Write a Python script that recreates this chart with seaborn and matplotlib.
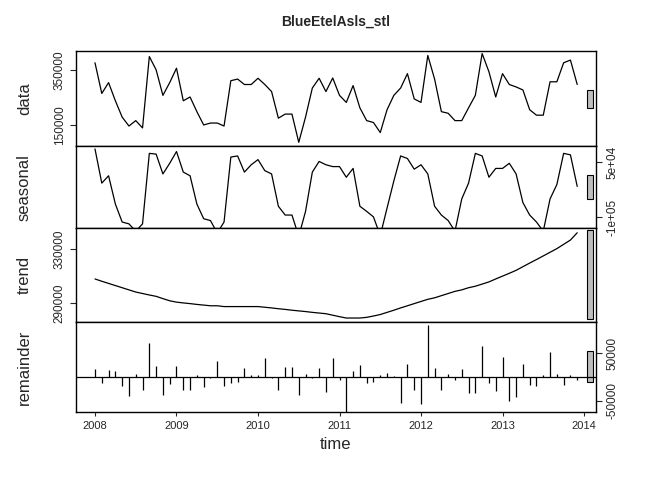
import numpy as np
import pandas as pd
import matplotlib
matplotlib.use("Agg")
import matplotlib.pyplot as plt
import seaborn as sns

# monthly values, Jan 2008 .. Dec 2013 (thousands)
data_k = [378, 265, 305, 238, 178, 145, 165, 138, 401, 352, 258, 305,
          358, 238, 252, 198, 149, 156, 156, 145, 312, 318, 298, 298,
          321, 298, 272, 174, 189, 189, 85, 178, 285, 321, 272, 322,
          258, 232, 294, 212, 165, 158, 121, 205, 258, 285, 338, 245,
          232, 405, 318, 198, 192, 165, 165, 212, 258, 412, 345, 252,
          338, 298, 289, 278, 205, 185, 185, 308, 308, 378, 388, 298]
seasonal_k = [86, -7, 13, -64, -113, -118, -138, -118, 74, 72, 18, 47,
              79, 23, 13, -64, -104, -109, -143, -113, 64, 67, 23, 43,
              57, 27, 18, -70, -94, -94, -152, -84, 23, 52, 43, 38,
              38, 9, 33, -70, -84, -99, -150, -75, -1, 67, 60, 31,
              43, 18, -70, -94, -109, -138, -50, -7, 74, 67, 9, 33,
              33, 47, 18, -60, -94, -113, -138, -50, -11, 74, 70, -16]
trend_k = [308, 306.3, 304.7, 303.1, 301.5, 299.9, 298.3, 297.2, 296.1, 295.1, 293.4, 291.8,
           290.8, 290.2, 289.7, 289.1, 288.6, 288.1, 288.1, 287.5, 287.5, 287.5, 287.5, 287.5,
           287.5, 287, 286.5, 285.9, 285.4, 284.8, 284.3, 283.8, 283.2, 282.7, 282.2, 281.1,
           280, 279, 279, 279, 279.5, 280.5, 281.6, 283.2, 284.8, 286.5, 288.1, 289.7,
           291.3, 292.9, 294, 295.6, 297.2, 298.8, 299.9, 301.5, 302.6, 304.2, 305.8, 308,
           310.1, 312.2, 314.4, 317.1, 319.8, 322.4, 325.1, 327.8, 330.5, 333.7, 336.9, 342.3]
remainder_k = [16, -12, 14, 12, -19, -41, 7, -27, 72, 23, -39, -14,
               23, -28, -28, 5, -21, -2, 34, -19, -13, -10, 19, 5,
               5, 41, -3, -28, 21, 21, -39, 7, -2, 19, -31, 41,
               -7, -75, 12, 25, -12, -10, 5, 9, 3, -54, 28, -27,
               -57, 110, 19, -27, 7, -7, 16, -34, -33, 66, -12, -30,
               43, -51, -43, 28, -16, -18, 5, 52, 7, -16, 5, -7]
years = [2008, 2009, 2010, 2011, 2012, 2013, 2014]

time = 2008 + np.arange(len(data_k)) / 12
df = pd.DataFrame({"time": time,
                   "data": np.array(data_k) * 1000,
                   "seasonal": np.array(seasonal_k) * 1000,
                   "trend": np.array(trend_k) * 1000,
                   "remainder": np.array(remainder_k) * 1000})

sns.set_style("white")
plt.rcParams['font.family'] = ['Liberation Sans', 'DejaVu Sans']

fig = plt.figure(figsize=(6.72, 4.8), dpi=100)
H, W = 480, 672
left_px, right_px = 76, 596
panels = [("data", 50.7, 146.4, (70000, 422500), [150000, 350000], ["150000", "350000"], "left"),
          ("seasonal", 146.4, 227.9, (-129000, 93000), [-100000, 50000], ["-1e+05", "5e+04"], "right"),
          ("trend", 227.9, 321.8, (276200, 345900), [290000, 330000], ["290000", "330000"], "left"),
          ("remainder", 321.8, 412, (-74000, 117000), [-50000, 50000], ["-50000", "50000"], "right")]
bar_len = 66000

for name, top, bot, ylim, ticks, labels, side in panels:
    ax = fig.add_axes([left_px / W, 1 - bot / H, (right_px - left_px) / W, (bot - top) / H])
    if name == "remainder":
        ax.vlines(df["time"], 0, df[name], color="black", lw=0.9)
        ax.axhline(0, color="black", lw=0.9)
    else:
        sns.lineplot(data=df, x="time", y=name, color="black", lw=0.9, ax=ax)
    ax.set_xlim(2007.767, 2014.147)
    ax.set_ylim(*ylim)
    mid = (ylim[0] + ylim[1]) / 2
    ax.add_patch(plt.Rectangle((2014.04, mid - bar_len / 2), 0.07, bar_len,
                               facecolor="#bebebe", edgecolor="black", lw=0.8))
    ax.set_yticks(ticks)
    if side == "right":
        ax.yaxis.tick_right()
    ax.set_yticklabels(labels, rotation=90, va="center", fontsize=8.5)
    ax.tick_params(axis="y", length=4, direction="out", left=(side == "left"), right=(side == "right"))
    ax.set_xticks(years)
    ax.tick_params(axis="x", length=3, direction="out", bottom=True)
    if name == "remainder":
        ax.set_xticklabels([str(y) for y in years], fontsize=8)
        ax.set_xlabel("time", fontsize=12)
    else:
        ax.set_xticklabels([])
        ax.set_xlabel("")
    ax.set_ylabel(name, fontsize=12)
    ax.yaxis.set_label_position("left")
    ax.yaxis.set_label_coords(-0.085, 0.5)
    for s in ax.spines.values():
        s.set_color("black")
        s.set_linewidth(1)

fig.text(0.5, 1 - 22 / H, "BlueEtelAsls_stl", ha="center", va="center", fontsize=10, fontweight="bold")
fig.savefig("out.png", dpi=100, facecolor="white")
